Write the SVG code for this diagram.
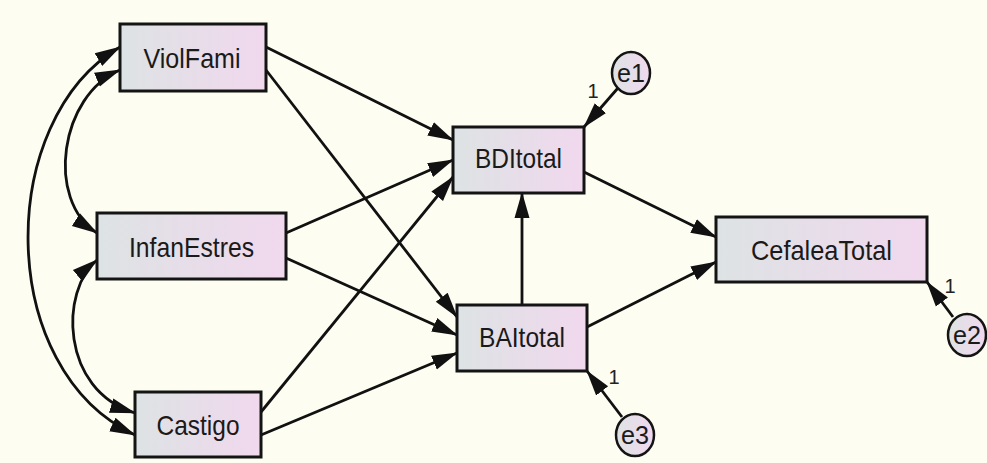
<svg xmlns="http://www.w3.org/2000/svg" width="987" height="463" viewBox="0 0 987 463">
<style>
.box{stroke:#141414;stroke-width:3;fill:url(#g)}
.ell{stroke:#141414;stroke-width:2.5;fill:url(#g)}
.lbl{font-family:"Liberation Sans",Arial,sans-serif;font-size:28px;fill:#1a1a1a;text-anchor:middle}
.el{font-family:"Liberation Sans",Arial,sans-serif;font-size:25px;fill:#1a1a1a;text-anchor:middle}
.one{font-family:"Liberation Sans",Arial,sans-serif;font-size:20px;fill:#222;text-anchor:middle}
.c line,.c path{stroke:#111;stroke-width:2.8;fill:none;marker-end:url(#ah)}
.c path.d{marker-start:url(#ah)}
</style>
<defs>
<linearGradient id="g" x1="0" y1="0" x2="1" y2="0">
<stop offset="0" stop-color="#dde3e4"/>
<stop offset="1" stop-color="#f1d8ee"/>
</linearGradient>
<marker id="ah" markerUnits="userSpaceOnUse" markerWidth="26" markerHeight="18" viewBox="0 0 26 18" refX="25" refY="9" orient="auto-start-reverse">
<path d="M0,1.5 L26,9 L0,16.5 Z" fill="#111"/>
</marker>
</defs>
<rect width="987" height="463" fill="#fdfdf1"/>
<g id="connectors" class="c">
<line x1="266" y1="47" x2="453" y2="140"/>
<line x1="266" y1="70" x2="457" y2="317"/>
<line x1="286" y1="233" x2="453" y2="160"/>
<line x1="286" y1="258" x2="457" y2="335"/>
<line x1="261" y1="412" x2="453" y2="177"/>
<line x1="261" y1="435" x2="457" y2="353"/>
<line x1="522" y1="305" x2="522" y2="193"/>
<line x1="584" y1="172" x2="716" y2="237"/>
<line x1="587" y1="327" x2="716" y2="262"/>
<line x1="618" y1="88" x2="584" y2="127"/>
<line x1="622" y1="417" x2="587" y2="371"/>
<line x1="953" y1="317" x2="927" y2="282"/>
<path class="d" d="M120,47 C-5,120 -5,370 135,435"/>
<path class="d" d="M120,70 C60,95 45,200 97,233"/>
<path class="d" d="M97,260 C60,290 60,390 135,413"/>
</g>
<g id="ViolFami"><rect class="box" x="120" y="24" width="146" height="67"/><text class="lbl" x="192" y="68" textLength="97" lengthAdjust="spacingAndGlyphs">ViolFami</text></g>
<g id="InfanEstres"><rect class="box" x="97" y="213" width="189" height="66"/><text class="lbl" x="191.5" y="257" textLength="125" lengthAdjust="spacingAndGlyphs">InfanEstres</text></g>
<g id="Castigo"><rect class="box" x="135" y="392" width="126" height="65"/><text class="lbl" x="198" y="435" textLength="83" lengthAdjust="spacingAndGlyphs">Castigo</text></g>
<g id="BDItotal"><rect class="box" x="453" y="127" width="131" height="66"/><text class="lbl" x="518.5" y="168" textLength="87" lengthAdjust="spacingAndGlyphs">BDItotal</text></g>
<g id="BAItotal"><rect class="box" x="457" y="305" width="130" height="66"/><text class="lbl" x="522" y="347" textLength="86" lengthAdjust="spacingAndGlyphs">BAItotal</text></g>
<g id="CefaleaTotal"><rect class="box" x="716" y="217" width="211" height="65"/><text class="lbl" x="821.5" y="260" textLength="141" lengthAdjust="spacingAndGlyphs">CefaleaTotal</text></g>
<g id="e1"><ellipse class="ell" cx="631" cy="73" rx="19" ry="21"/><text class="el" x="631" y="82" textLength="28" lengthAdjust="spacingAndGlyphs">e1</text><text class="one" x="593" y="98">1</text></g>
<g id="e3"><ellipse class="ell" cx="635" cy="435" rx="19" ry="21"/><text class="el" x="635" y="444" textLength="28" lengthAdjust="spacingAndGlyphs">e3</text><text class="one" x="614" y="384">1</text></g>
<g id="e2"><ellipse class="ell" cx="967" cy="335" rx="19" ry="21"/><text class="el" x="967" y="344" textLength="28" lengthAdjust="spacingAndGlyphs">e2</text><text class="one" x="950" y="293">1</text></g>
</svg>
